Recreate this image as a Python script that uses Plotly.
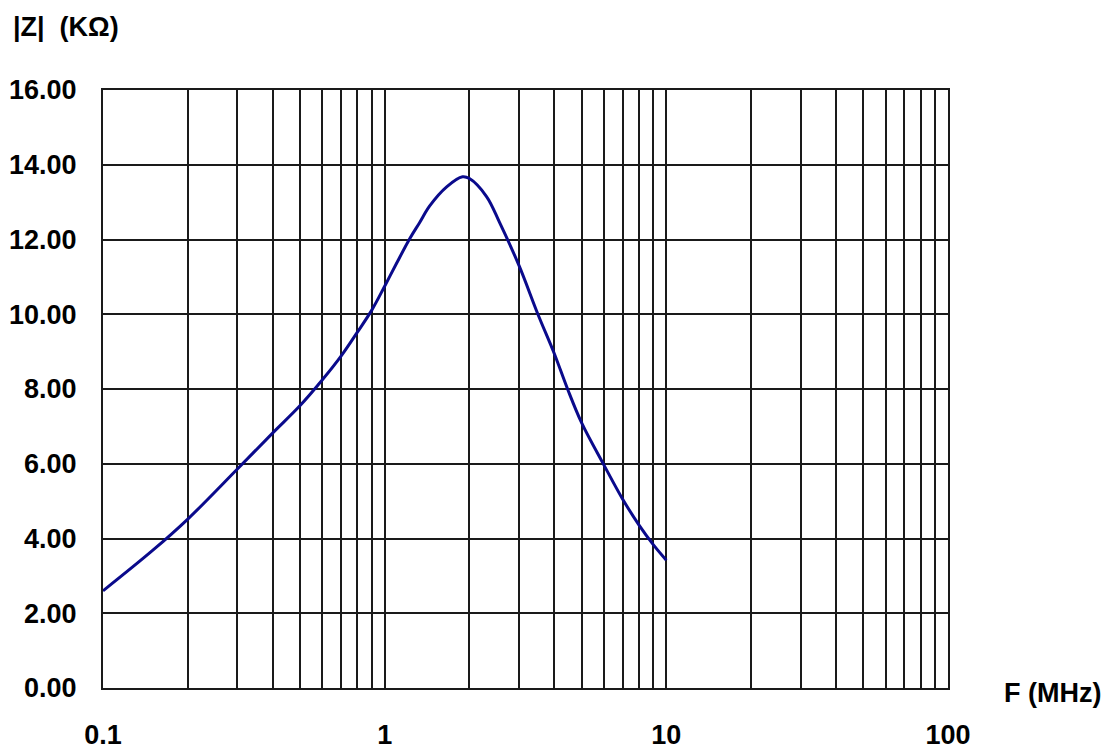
import plotly.graph_objects as go

freq_mhz = [0.1, 0.15, 0.2, 0.3, 0.4, 0.5, 0.6, 0.7, 0.8, 0.9, 1.0, 1.1, 1.227, 1.33, 1.445,
            1.66, 1.89, 2.0, 2.3, 2.56, 3.0, 3.5, 4.0, 4.46, 5.0, 6.0, 7.0, 8.0, 9.0, 10.0]
z_kohm = [2.6, 3.68, 4.52, 5.86, 6.82, 7.55, 8.24, 8.88, 9.52, 10.11, 10.75, 11.35, 12.02, 12.45, 12.9,
          13.41, 13.68, 13.63, 13.15, 12.45, 11.3, 10.0, 8.95, 8.0, 7.1, 5.97, 5.05, 4.36, 3.83, 3.42]

x_tick_vals = [0.1, 1, 10, 100]
x_tick_text = ["0.1", "1", "10", "100"]
x_minor_vals = [m * d for d in (0.1, 1, 10) for m in range(2, 10)]
y_tick_vals = [0, 2, 4, 6, 8, 10, 12, 14, 16]

FONT = "Arial, Liberation Sans, sans-serif"

fig = go.Figure()
fig.add_trace(go.Scatter(x=freq_mhz, y=z_kohm, mode="lines",
                         line=dict(color="#0a0a8c", width=3, shape="spline", smoothing=1.0),
                         showlegend=False))

fig.update_layout(
    width=1108, height=741,
    margin=dict(l=95, r=168, t=82, b=61, autoexpand=False),
    paper_bgcolor="white", plot_bgcolor="white",
    font=dict(family=FONT, size=27, color="black"),
)
fig.update_xaxes(
    type="log", range=[-1, 2], automargin=False,
    tickvals=x_tick_vals, ticktext=x_tick_text,
    showgrid=True, gridcolor="#1a1a1a", gridwidth=2,
    minor=dict(tickvals=x_minor_vals, showgrid=True, gridcolor="#1a1a1a", gridwidth=2),
    showline=True, linecolor="#1a1a1a", linewidth=2, mirror=True,
    ticks="", ticklabelstandoff=22,
    tickfont=dict(family=FONT, size=27, color="black", weight="bold"),
    zeroline=False,
)
fig.update_yaxes(
    range=[0, 16], tickvals=y_tick_vals, tickformat=".2f", automargin=False,
    showgrid=True, gridcolor="#1a1a1a", gridwidth=2,
    showline=True, linecolor="#1a1a1a", linewidth=2, mirror=True,
    ticks="", ticklabelstandoff=19,
    tickfont=dict(family=FONT, size=27, color="black", weight="bold"),
    zeroline=False,
)
fig.add_annotation(text="<b>|Z|  (KΩ)</b>", xref="paper", yref="paper",
                   x=0, y=1 + 63/598, xanchor="left", yanchor="middle",
                   xshift=-92, showarrow=False, font=dict(family=FONT, size=27, color="black"))
fig.add_annotation(text="<b>F (MHz)</b>", xref="paper", yref="paper",
                   x=1, y=0, xanchor="left", yanchor="middle",
                   xshift=54, yshift=-5, showarrow=False, font=dict(family=FONT, size=27, color="black"))

fig.write_html("out.html")
